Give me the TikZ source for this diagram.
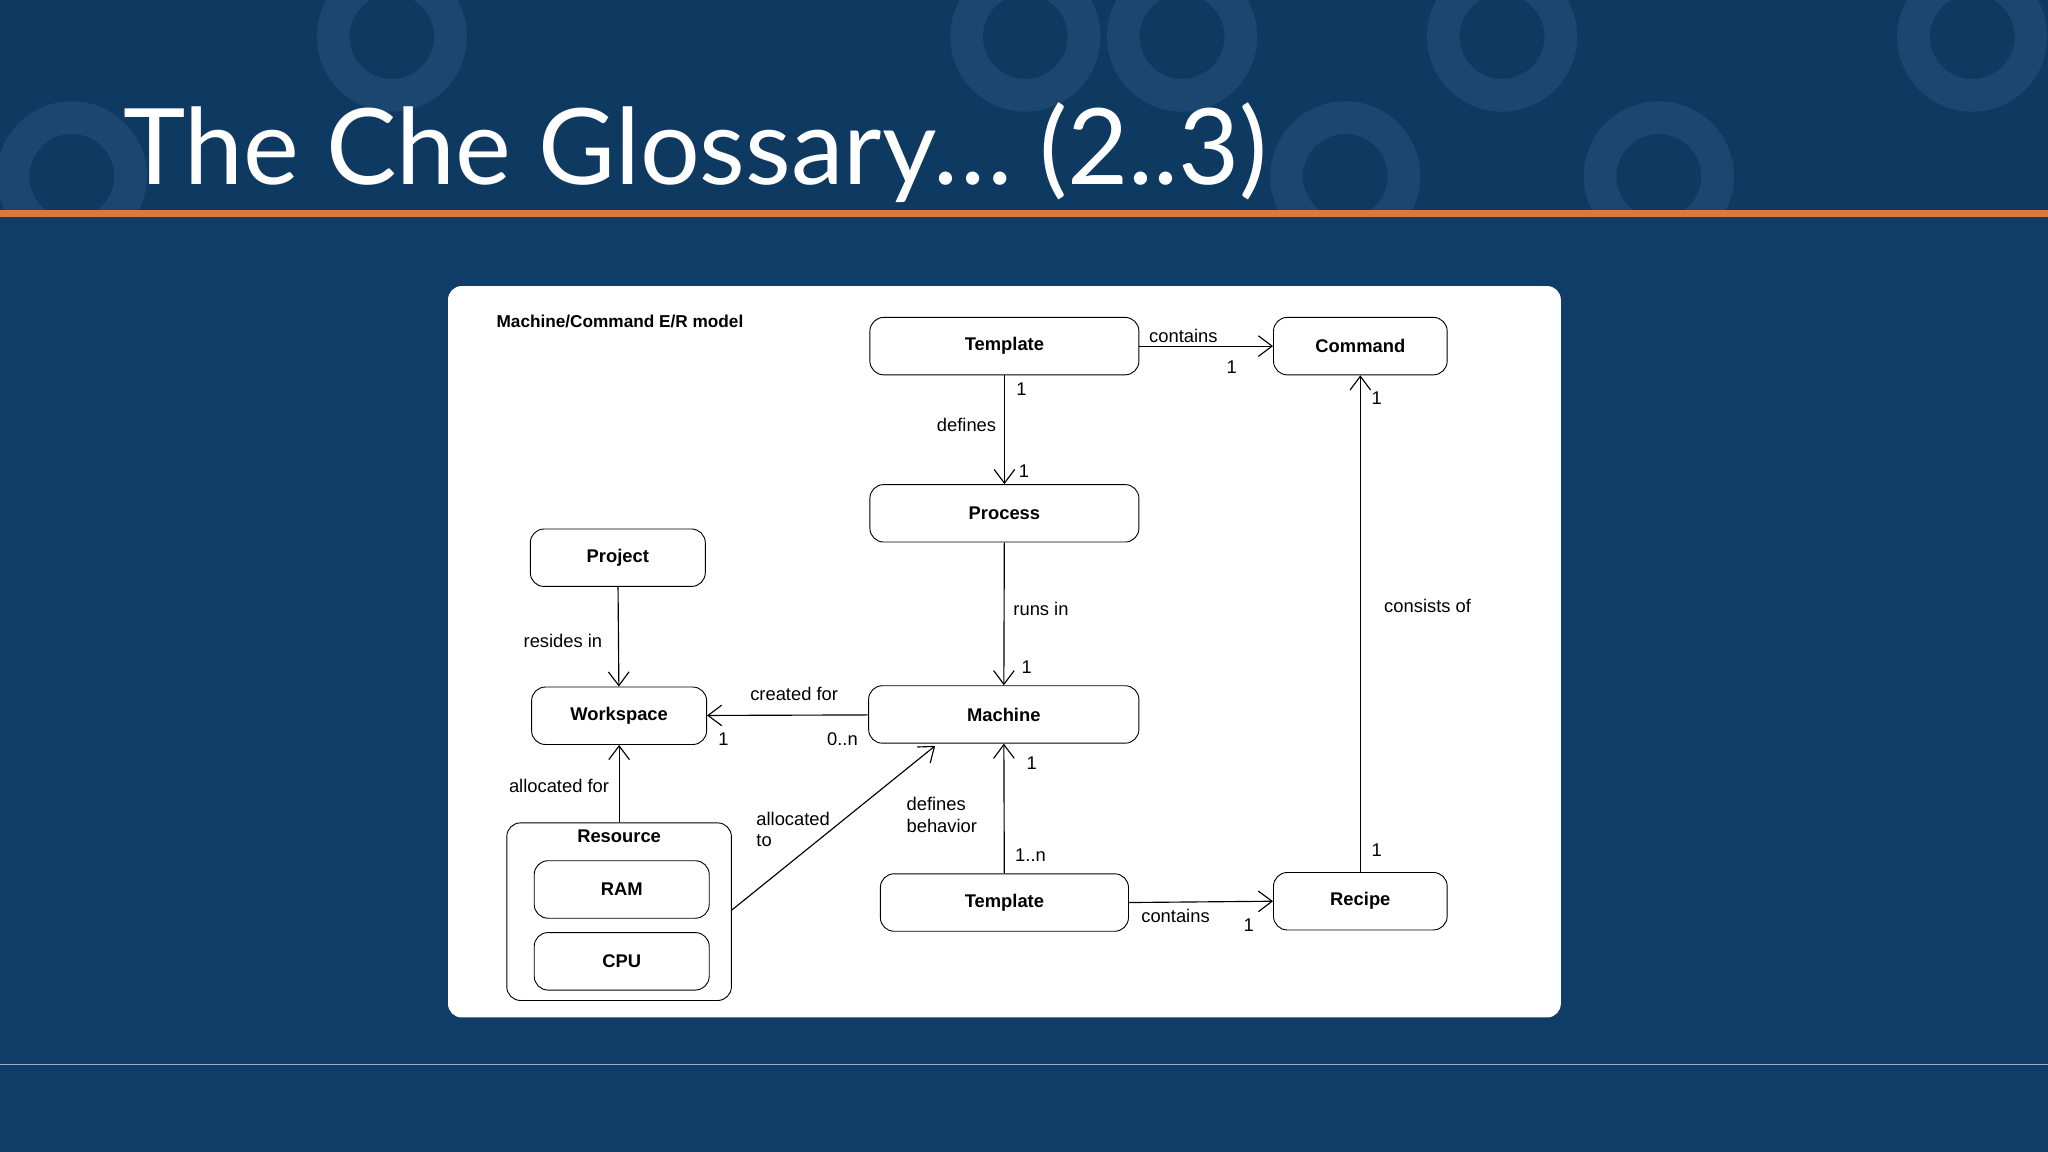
\documentclass[tikz,border=0pt]{standalone}
\usepackage{fontspec}
\setmainfont{Liberation Sans}
\newfontfamily\titlefont{Lato}
\usetikzlibrary{arrows.meta}
\definecolor{slidebg}{HTML}{0F3D67}
\definecolor{bannerbg}{HTML}{0E3A62}
\definecolor{ringcol}{HTML}{2A5580}
\definecolor{accent}{HTML}{E0773A}
\begin{document}
\begin{tikzpicture}[x=0.02cm,y=-0.02cm,
  entity/.style={draw,rounded corners=6pt,minimum height=0.88cm,font=\bfseries\fontsize{8}{9}\selectfont,inner sep=0pt},
  rel/.style={-{Straight Barb[length=6pt,width=9pt]},line width=0.5pt},
  lbl/.style={font=\fontsize{8}{9.5}\selectfont,inner sep=1pt,align=left}]
% slide background
\useasboundingbox (0,0) rectangle (1568,882);
\fill[slidebg] (0,0) rectangle (1568,882);
\fill[bannerbg] (0,0) rectangle (1568,163);
\begin{scope}
\clip (0,0) rectangle (1568,163);
\foreach \cx/\cy in {300/28,785/28,905/28,1150/28,1510/28,55/135,1270/135,1030/135}
  \draw[ringcol,opacity=0.45,line width=0.5cm] (\cx,\cy) circle (45);
\end{scope}
\fill[accent] (0,161) rectangle (1568,166);
\draw[white!60!slidebg,line width=0.6pt] (0,815) -- (1568,815);
\node[anchor=west,text=white,font=\titlefont\fontsize{46}{50}\selectfont] (title) at (88,117) {The Che Glossary… (2..3)};
% diagram panel
\fill[white,rounded corners=6pt] (343,779) -- (343,219) -- (1195,219) -- (1195,779) -- cycle;
\node[anchor=west,font=\bfseries\fontsize{7.5}{9}\selectfont] (caption) at (374,246) {Machine/Command E/R model};
% entities
\node[entity,minimum width=4.12cm] (tpl) at (769,265) {Template};
\node[entity,minimum width=2.66cm] (cmd) at (1041.5,265) {Command};
\node[entity,minimum width=4.12cm] (proc) at (769,393) {Process};
\node[entity,minimum width=2.68cm] (proj) at (473,427) {Project};
\node[entity,minimum width=2.68cm] (ws) at (474,548) {Workspace};
\node[entity,minimum width=4.14cm] (mach) at (768.5,547) {Machine};
\node[draw,rounded corners=6pt,minimum width=3.44cm,minimum height=2.72cm] (res) at (474,698) {};
\node[font=\bfseries\fontsize{8}{9}\selectfont] (reslbl) at (474,640) {Resource};
\node[entity,minimum width=2.68cm] (ram) at (476,681) {RAM};
\node[entity,minimum width=2.68cm] (cpu) at (476,736) {CPU};
\node[entity,minimum width=3.8cm] (tplb) at (769,691) {Template};
\node[entity,minimum width=2.66cm] (rcp) at (1041.5,690) {Recipe};
% relations
\draw[rel] (tpl) -- (cmd);
\draw[rel] (tpl) -- (proc);
\draw[rel] (proc) -- (mach);
\draw[rel] (proj) -- (ws);
\draw[rel] (mach) -- (ws);
\draw[rel] (res) -- (ws);
\coordinate (resout) at (560,697);
\coordinate (machin) at (716,571);
\draw[rel] (resout) -- (machin);
\draw[rel] (tplb) -- (mach);
\draw[rel] (tplb.east) -- (rcp.west);
\draw[rel] (rcp) -- (cmd);
% labels
\node[lbl] at (906,257) {contains};
\node[lbl] at (943,281) {1};
\node[lbl] at (782,298) {1};
\node[lbl] at (740,325) {defines};
\node[lbl] at (784,361) {1};
\node[lbl] at (797,466) {runs in};
\node[lbl] at (786,511) {1};
\node[lbl] at (431,491) {resides in};
\node[lbl] at (608,531) {created for};
\node[lbl] at (554,566) {1};
\node[lbl] at (645,566) {0..n};
\node[lbl] at (428,602) {allocated for};
\node[lbl,anchor=west] at (577,635) {allocated\\to};
\node[lbl,anchor=west] at (692,624) {defines\\behavior};
\node[lbl] at (790,584) {1};
\node[lbl] at (789,655) {1..n};
\node[lbl] at (900,701) {contains};
\node[lbl] at (956,708) {1};
\node[lbl] at (1093,464) {consists of};
\node[lbl] at (1054,305) {1};
\node[lbl] at (1054,651) {1};
\end{tikzpicture}
\end{document}
